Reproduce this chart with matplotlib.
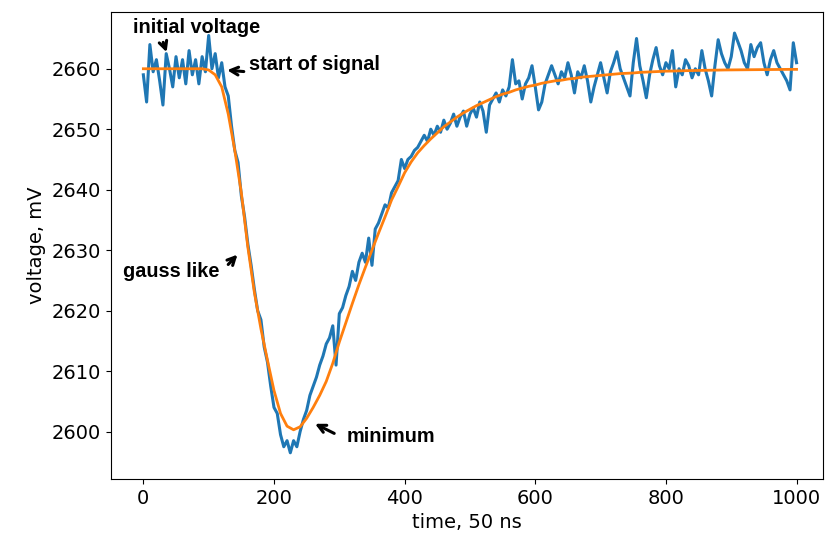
import matplotlib
matplotlib.use("Agg")
import matplotlib.pyplot as plt
import numpy as np

plt.rcParams.update({"font.size": 14})

# measured signal, sampled every 5 time units
time = np.arange(0, 1001, 5)
voltage = [
    2659.0, 2654.5, 2664.0, 2659.5, 2661.5, 2658.0, 2654.0, 2662.5, 2660.0, 2657.0,
    2662.0, 2658.5, 2661.5, 2657.5, 2663.0, 2659.0, 2661.5, 2657.5, 2662.0, 2659.5,
    2665.5, 2660.0, 2662.5, 2658.5, 2661.0, 2657.0, 2655.5, 2650.5, 2646.5, 2644.5,
    2639.0, 2635.5, 2631.0, 2627.5, 2623.5, 2620.0, 2618.5, 2614.0, 2611.5, 2607.5,
    2604.0, 2603.0, 2599.5, 2597.5, 2598.5, 2596.5, 2598.5, 2597.5, 2600.0, 2602.0,
    2603.5, 2606.0, 2607.5, 2609.0, 2611.0, 2612.5, 2614.5, 2615.5, 2617.5, 2611.0,
    2619.5, 2620.5, 2622.5, 2624.0, 2626.5, 2625.0, 2628.0, 2629.5, 2628.0, 2632.0,
    2627.5, 2633.5, 2634.5, 2636.0, 2637.5, 2637.0, 2639.5, 2640.5, 2641.5, 2645.0,
    2643.5, 2645.0, 2645.5, 2646.5, 2647.0, 2648.0, 2649.0, 2648.0, 2650.0, 2649.0,
    2650.5, 2649.5, 2651.5, 2650.0, 2651.0, 2652.5, 2650.5, 2652.0, 2653.0, 2650.5,
    2652.5, 2653.5, 2652.0, 2654.5, 2653.0, 2649.5, 2654.0, 2655.0, 2656.0, 2654.5,
    2656.5, 2655.5, 2657.0, 2661.5, 2657.5, 2658.0, 2655.0, 2657.5, 2658.5, 2660.5,
    2657.0, 2653.2, 2654.5, 2657.5, 2659.0, 2660.5, 2659.0, 2657.5, 2659.5, 2658.5,
    2661.0, 2659.0, 2656.0, 2659.5, 2658.5, 2660.5, 2658.0, 2654.5, 2657.0, 2659.0,
    2661.0, 2658.5, 2656.0, 2659.5, 2661.0, 2662.8, 2660.0, 2658.5, 2657.0, 2655.5,
    2661.0, 2665.0, 2660.5, 2658.0, 2655.2, 2659.0, 2661.5, 2663.5, 2660.5, 2659.0,
    2661.0, 2660.0, 2663.0, 2657.0, 2660.0, 2659.0, 2661.5, 2660.5, 2658.5, 2660.0,
    2659.0, 2663.0, 2660.0, 2658.0, 2655.5, 2660.5, 2664.8, 2662.5, 2661.0, 2660.0,
    2662.0, 2665.9, 2664.5, 2663.0, 2661.0, 2660.0, 2664.0, 2662.0, 2663.5, 2664.3,
    2661.0, 2659.0, 2661.5, 2663.0, 2661.0, 2660.0, 2659.0, 2658.0, 2656.5, 2664.3,
    2661.0,
]

# fitted curve, every 10 time units
fit_time = np.arange(0, 1001, 10)
fit_voltage = [
    2660.0, 2660.0, 2660.0, 2660.0, 2660.0, 2660.0, 2660.0, 2660.0, 2660.0, 2660.0,
    2659.8, 2659.0, 2657.0, 2652.5, 2646.5, 2639.5, 2630.5, 2623.0, 2617.0, 2611.8,
    2606.8, 2603.0, 2600.9, 2600.3, 2600.8, 2602.2, 2604.0, 2606.0, 2608.3, 2611.3,
    2614.8, 2618.0, 2621.2, 2624.3, 2627.2, 2630.0, 2632.8, 2635.5, 2638.3, 2640.5,
    2642.8, 2644.6, 2646.1, 2647.3, 2648.4, 2649.4, 2650.4, 2651.2, 2652.0, 2652.7,
    2653.3, 2653.9, 2654.4, 2654.9, 2655.4, 2655.8, 2656.1, 2656.5, 2656.8, 2657.1,
    2657.3, 2657.6, 2657.8, 2658.0, 2658.1, 2658.3, 2658.4, 2658.6, 2658.7, 2658.8,
    2658.9, 2659.0, 2659.1, 2659.2, 2659.25, 2659.3, 2659.4, 2659.45, 2659.5, 2659.55,
    2659.6, 2659.62, 2659.65, 2659.68, 2659.7, 2659.72, 2659.74, 2659.76, 2659.78, 2659.8,
    2659.81, 2659.82, 2659.83, 2659.84, 2659.85, 2659.86, 2659.87, 2659.88, 2659.89, 2659.9,
    2659.9,
]

fig = plt.figure(figsize=(8.26, 5.41), dpi=100)
ax = fig.add_axes([0.134, 0.115, 0.862, 0.863])

ax.plot(time, voltage, color="#1f77b4", linewidth=2.2)
ax.plot(fit_time, fit_voltage, color="#ff7f0e", linewidth=2)

ax.set_xlim(-50, 1040)
ax.set_ylim(2592.2, 2669.4)
ax.set_xlabel("time, 50 ns")
ax.set_ylabel("voltage, mV")

note = dict(family="Liberation Sans", fontweight="bold", fontsize=14.3, va="center")
arrow = dict(arrowstyle="->", lw=2.2, color="black", mutation_scale=14)

ax.text(81, 2666.8, "initial voltage", ha="center", **note)
ax.annotate("", xy=(37, 2662.3), xytext=(29, 2664.8), arrowprops=arrow)

ax.text(161, 2660.7, "start of signal", ha="left", **note)
ax.annotate("", xy=(124, 2659.8), xytext=(158, 2659.5), arrowprops=arrow)

ax.text(-30.6, 2626.4, "gauss like", ha="left", **note)
ax.annotate("", xy=(147, 2629.6), xytext=(127, 2627.3), arrowprops=arrow)

ax.text(311, 2599.2, "minimum", ha="left", **note)
ax.annotate("", xy=(259, 2601.5), xytext=(296, 2599.5), arrowprops=arrow)

fig.savefig("out.png", dpi=100)
